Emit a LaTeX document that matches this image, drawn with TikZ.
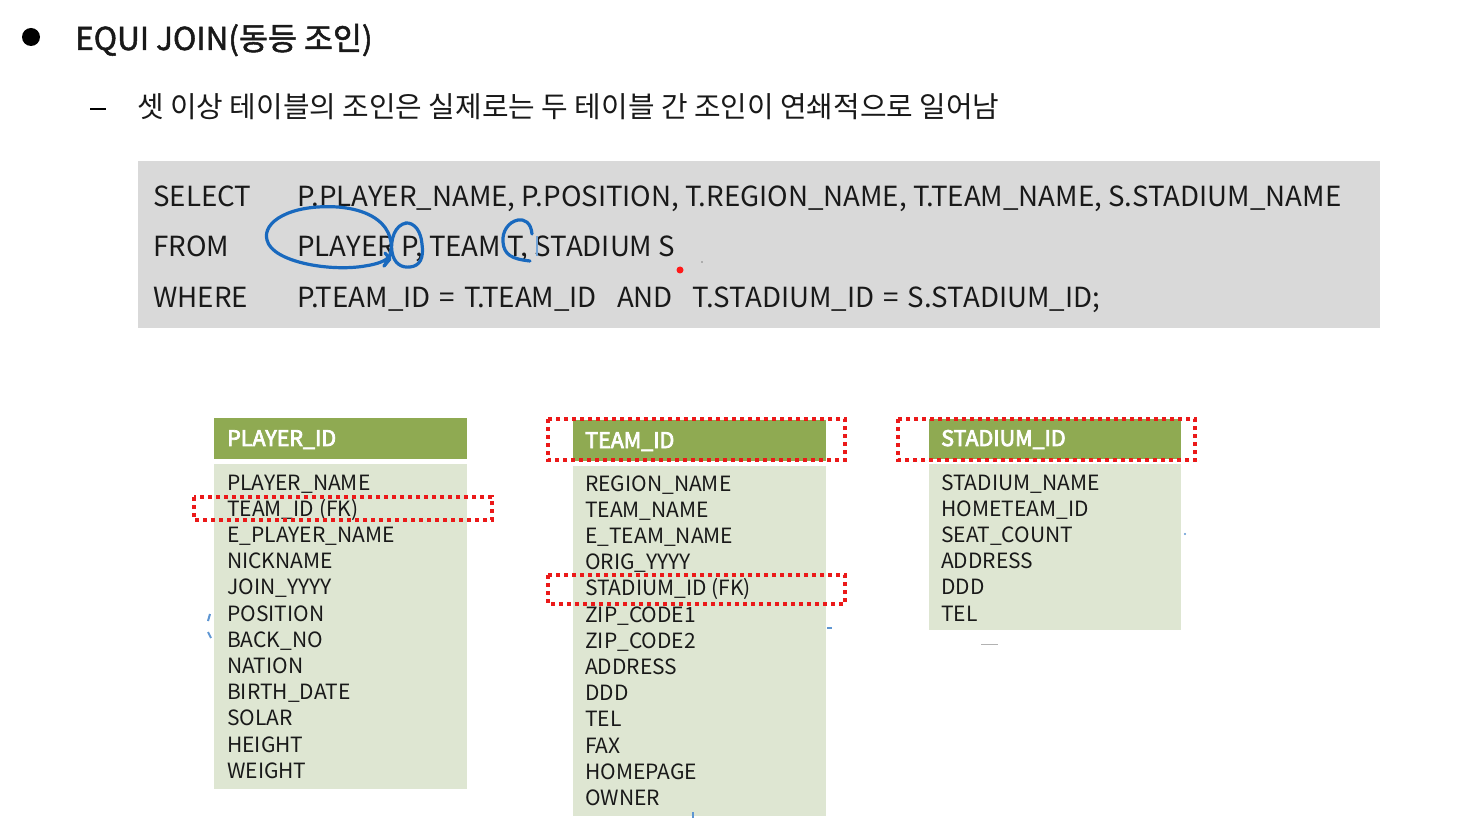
\documentclass[tikz,border=0pt]{standalone}
\usepackage{fontspec}
\setmainfont{Noto Sans CJK KR}
\newfontfamily\hdrfont{Noto Sans CJK KR}[AutoFakeBold=3.5]
\newfontfamily\ttlfont{Noto Sans CJK KR}[AutoFakeBold=1.6]
\definecolor{hdrgreen}{RGB}{143,170,82}
\definecolor{bodygreen}{RGB}{222,230,210}
\definecolor{codegray}{RGB}{217,217,217}
\definecolor{ink}{RGB}{25,105,190}
\definecolor{redbox}{RGB}{235,25,25}
\newcommand{\eqsp}{\hspace{9pt}=\hspace{9pt}}
\tikzset{
  txt/.style={anchor=base west,inner sep=0pt,text=black!90},
  rowtxt/.style={txt,font=\fontsize{21}{21}\selectfont},
  codetxt/.style={txt,font=\fontsize{27.7}{28}\selectfont},
  hdrtxt/.style={txt,text=white,font=\hdrfont\fontsize{21.5}{21.5}\selectfont\bfseries},
  hdrbox/.style={fill=hdrgreen},
  bodybox/.style={fill=bodygreen},
  redmark/.style={draw=redbox,line width=4pt,dash pattern=on 4pt off 4pt},
  pen/.style={draw=ink,line width=3.2pt,line cap=round,line join=round},
}
\begin{document}
\begin{tikzpicture}[x=1pt,y=-1pt]
\useasboundingbox (0,0) rectangle (1484,826);
\fill[white] (0,0) rectangle (1484,826);
% title
\fill[black] (31,37) circle (9);
\node[txt,font=\ttlfont\fontsize{31.5}{32}\selectfont\bfseries] (title) at (75,50) {EQUI JOIN(동등 조인)};
\draw[line width=1.6pt] (90,109) -- (106,109);
\node[txt,font=\fontsize{28.9}{29}\selectfont] (sub) at (137,118) {셋 이상 테이블의 조인은 실제로는 두 테이블 간 조인이 연쇄적으로 일어남};
% SQL box
\fill[codegray] (138,161) rectangle (1380,328);
\node[codetxt] (kw1) at (153,207) {SELECT};
\node[codetxt] (kw2) at (153,257) {FROM};
\node[codetxt] (kw3) at (153,308) {WHERE};
\node[codetxt] (c1) at (297,207) {P.PLAYER\_NAME, P.POSITION, T.REGION\_NAME, T.TEAM\_NAME, S.STADIUM\_NAME};
\node[codetxt] (c2) at (297,257) {PLAYER P, TEAM T, STADIUM S};
\node[codetxt] (c3) at (297,308) {P.TEAM\_ID\eqsp T.TEAM\_ID\hspace{20pt}AND\hspace{20pt}T.STADIUM\_ID\eqsp S.STADIUM\_ID;};
% pen marks
\draw[pen] (384,266) .. controls (398,250) and (396,212) .. (338,207)
  .. controls (290,204) and (262,222) .. (267,240)
  .. controls (272,262) and (330,272) .. (365,266)
  .. controls (378,264) and (385,261) .. (389,257);
\draw[pen] (385,253) -- (390,259) -- (384,266);
\draw[pen] (407,223) .. controls (395,224) and (390,240) .. (392,252)
  .. controls (394,264) and (402,268) .. (410,267)
  .. controls (420,266) and (424,258) .. (422,244)
  .. controls (421,232) and (415,222) .. (405,223);
\draw[pen] (532,234) .. controls (531,222) and (524,219) .. (518,220)
  .. controls (508,222) and (502,232) .. (503,242)
  .. controls (504,255) and (512,259) .. (530,261);
\draw[ink!60,line width=1.5pt] (537,236) -- (537,256);
\fill[red!90!white] (680,270) circle (3.5);
\fill[gray] (702,262) circle (0.8);
% PLAYER table
\fill[hdrbox] (214,418) rectangle (467,459);
\node[hdrtxt] (ph) at (227,446) {PLAYER\_ID};
\fill[bodybox] (214,464) rectangle (467,789);
\foreach \t [count=\i] in {PLAYER\_NAME,TEAM\_ID (FK),E\_PLAYER\_NAME,NICKNAME,JOIN\_YYYY,POSITION,BACK\_NO,NATION,BIRTH\_DATE,SOLAR,HEIGHT,WEIGHT}
  \node[rowtxt] (p\i) at (227,{490+(\i-1)*26.2}) {\t};
\draw[redmark] (194,497) rectangle (492,520);
% TEAM table
\fill[hdrbox] (573,420) rectangle (826,461);
\node[hdrtxt] (th) at (585,448) {TEAM\_ID};
\fill[bodybox] (573,466) rectangle (826,816);
\foreach \t [count=\i] in {REGION\_NAME,TEAM\_NAME,E\_TEAM\_NAME,ORIG\_YYYY,STADIUM\_ID (FK),ZIP\_CODE1,ZIP\_CODE2,ADDRESS,DDD,TEL,FAX,HOMEPAGE,OWNER}
  \node[rowtxt] (t\i) at (585,{491+(\i-1)*26.2}) {\t};
\draw[redmark] (548,419) rectangle (845,460);
\draw[redmark] (548,575) rectangle (845,604);
% STADIUM table
\fill[hdrbox] (929,419) rectangle (1181,459);
\node[hdrtxt] (sh) at (941,446) {STADIUM\_ID};
\fill[bodybox] (929,464) rectangle (1181,630);
\foreach \t [count=\i] in {STADIUM\_NAME,HOMETEAM\_ID,SEAT\_COUNT,ADDRESS,DDD,TEL}
  \node[rowtxt] (s\i) at (941,{490+(\i-1)*26.2}) {\t};
\draw[redmark] (898,419) rectangle (1195,460);
% stray marks
\draw[ink!70,line width=2pt] (210,614) -- (208,621);
\draw[ink!70,line width=2pt] (208,632) -- (211,638);
\draw[ink!70,line width=1.5pt] (827,628) -- (832,628);
\fill[ink!70] (1185,534) circle (1.2);
\draw[gray!60,line width=1pt] (981,644) -- (998,644);
\draw[ink!70,line width=1.5pt] (693,812) -- (693,818);
\end{tikzpicture}
\end{document}
